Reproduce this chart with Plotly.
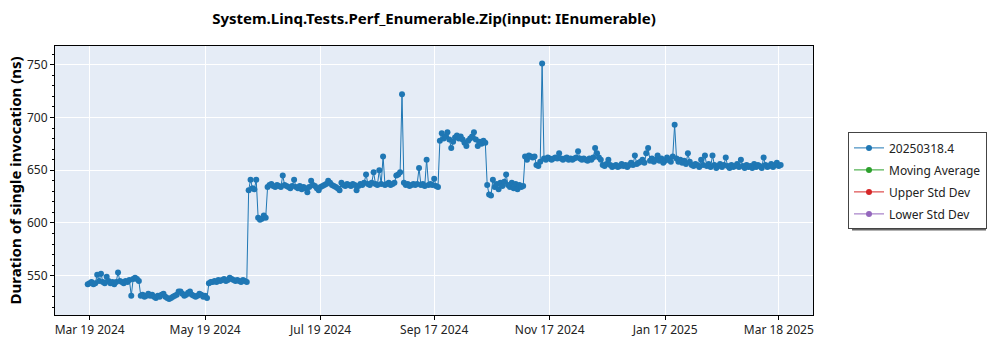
import pandas as pd
import plotly.graph_objects as go

# Benchmark results, one value (ns) per day starting 2024-03-18
start_date = "2024-03-18"

spring_2024 = [542, 543, 544, 542, 543, 551, 545, 552, 544, 543, 549, 545, 543, 544,
               542, 544, 553, 545, 544, 543, 545, 544, 546, 531, 547, 548, 547, 545]
april_may_2024 = [531, 532, 530, 531, 533, 531, 532, 530, 529, 531,
                  530, 532, 533, 530, 529, 528, 529, 530, 531, 532,
                  535, 535, 533, 531, 532, 534, 535, 532, 531, 530,
                  531, 533, 532, 530, 531, 529]
late_may_2024 = [543, 544, 544, 545, 544, 546, 545, 546, 547, 545, 546, 548, 547,
                 546, 545, 546, 545, 544, 546, 545, 544]
summer_2024 = [631, 641, 633, 632, 641, 605, 603, 604, 607, 605,
               634, 636, 637, 635, 634, 636, 635, 634, 645, 636,
               635, 634, 633, 635, 641, 634, 633, 635, 632, 634,
               633, 629, 634, 640, 636, 635, 633, 631, 634, 635,
               636, 637, 640, 638, 636, 635, 634, 633, 631, 638,
               636, 635, 637, 636, 635, 637, 636, 631, 635, 637,
               636, 638, 646, 637, 636, 638, 648, 637, 636, 650,
               637, 663, 636, 637, 638, 636, 637, 638, 645, 646,
               648, 722, 638, 636, 637, 635, 636, 637, 636, 637,
               652, 636, 637, 635, 660, 636, 637, 636, 642, 635,
               634]
early_autumn_2024 = [678, 685, 680, 682, 686, 679, 671, 677, 681, 683, 680, 682, 679,
                     676, 673, 678, 680, 682, 686, 679, 673, 677, 675, 678, 676]
october_2024 = [636, 627, 626, 641, 634, 637, 632, 638, 635, 639,
                646, 636, 634, 638, 633, 637, 632, 636, 634, 635]
november_2024 = [663, 660, 664, 663, 662, 663, 655, 654, 658, 751,
                 661, 660, 662, 661, 660, 661, 662, 661, 666, 661,
                 660, 661, 662, 660, 661, 660, 661, 662, 668, 661,
                 660, 661, 660, 659, 661, 660, 662, 671, 666, 662,
                 660]
winter_2025 = [655, 654, 656, 660, 655, 653, 654, 655, 653, 654,
               656, 654, 655, 653, 655, 657, 655, 664, 656, 657,
               658, 660, 657, 666, 671, 659, 661, 658, 660, 664,
               659, 661, 657, 659, 662, 660, 658, 663, 693, 661,
               658, 660, 657, 659, 656, 666, 658, 655, 654, 656,
               655, 653, 660, 655, 664, 654, 656, 653, 664, 655,
               652, 654, 656, 653, 655, 662, 654, 652, 655, 653,
               654, 656, 653, 660, 654, 652, 655, 653, 654, 652,
               656, 653, 655, 654, 652, 662, 655, 653, 654, 656,
               653, 655, 657, 654, 655]

durations = (spring_2024 + april_may_2024 + late_may_2024 + summer_2024
             + early_autumn_2024 + october_2024 + november_2024 + winter_2025)
dates = pd.date_range(start_date, periods=len(durations), freq="D")

tick_dates = ["2024-03-19", "2024-05-19", "2024-07-19", "2024-09-17",
              "2024-11-17", "2025-01-17", "2025-03-18"]
y_ticks = [550, 600, 650, 700, 750]

series_names = ["20250318.4", "Moving Average", "Upper Std Dev", "Lower Std Dev"]
series_colors = ["#1f77b4", "#2ca02c", "#d62728", "#9467bd"]

FONT = "Noto Sans"

fig = go.Figure()
fig.add_trace(go.Scatter(
    x=dates, y=durations, name=series_names[0], mode="lines+markers",
    line=dict(color=series_colors[0], width=1),
    marker=dict(color=series_colors[0], size=6),
    legendgroup="g0",
))
for i in range(1, 4):
    fig.add_trace(go.Scatter(
        x=[None], y=[None], name=series_names[i], mode="lines+markers",
        line=dict(color=series_colors[i], width=1),
        marker=dict(color=series_colors[i], size=6),
        legendgroup=f"g{i}",
    ))

axis_common = dict(
    showline=True, linecolor="black", linewidth=1, mirror=True,
    gridcolor="white", gridwidth=1, ticks="outside", ticklen=4,
    tickcolor="black", tickfont=dict(family=FONT, size=12, color="#222"),
    zeroline=False,
)

fig.update_layout(
    width=1000, height=350,
    margin=dict(l=55, r=187, t=46, b=30),
    paper_bgcolor="white", plot_bgcolor="#E5ECF6",
    title=dict(text="<b>System.Linq.Tests.Perf_Enumerable.Zip(input: IEnumerable)</b>",
               x=0.5, xref="paper", xanchor="center",
               y=1 - 19 / 350, yref="container", yanchor="middle",
               font=dict(family=FONT, size=15, color="black")),
    xaxis=dict(range=["2024-02-29 17:00", "2025-04-05 02:00"],
               tickvals=tick_dates, tickformat="%b %d %Y", **axis_common),
    yaxis=dict(range=[512.8, 767.7], tickvals=y_ticks,
               minor=dict(dtick=10, ticks="outside", ticklen=2, tickcolor="black",
                          showgrid=False),
               **axis_common),
    showlegend=True,
    legend=dict(x=(848 - 55) / 758, xanchor="left", y=(320 - 134) / 274, yanchor="top",
                bgcolor="white", bordercolor="#444", borderwidth=1,
                font=dict(family=FONT, size=12, color="#222"),
                traceorder="grouped", tracegroupgap=3, itemwidth=30),
    hovermode=False,
)

# drop shadow behind the legend box
fig.add_shape(type="rect", xref="paper", yref="paper", layer="above",
              x0=(852 - 55) / 758, x1=(986 - 55) / 758,
              y0=(320 - 234) / 274, y1=(320 - 138) / 274,
              fillcolor="#666", line=dict(width=0), opacity=1)

fig.add_annotation(text="<b>Duration of single invocation (ns)</b>",
                   xref="paper", yref="paper", x=(14 - 55) / 758, y=0.5,
                   xanchor="center", yanchor="middle", textangle=-90, showarrow=False,
                   font=dict(family=FONT, size=15, color="black"))

fig.write_html("out.html", config={"displayModeBar": False})
